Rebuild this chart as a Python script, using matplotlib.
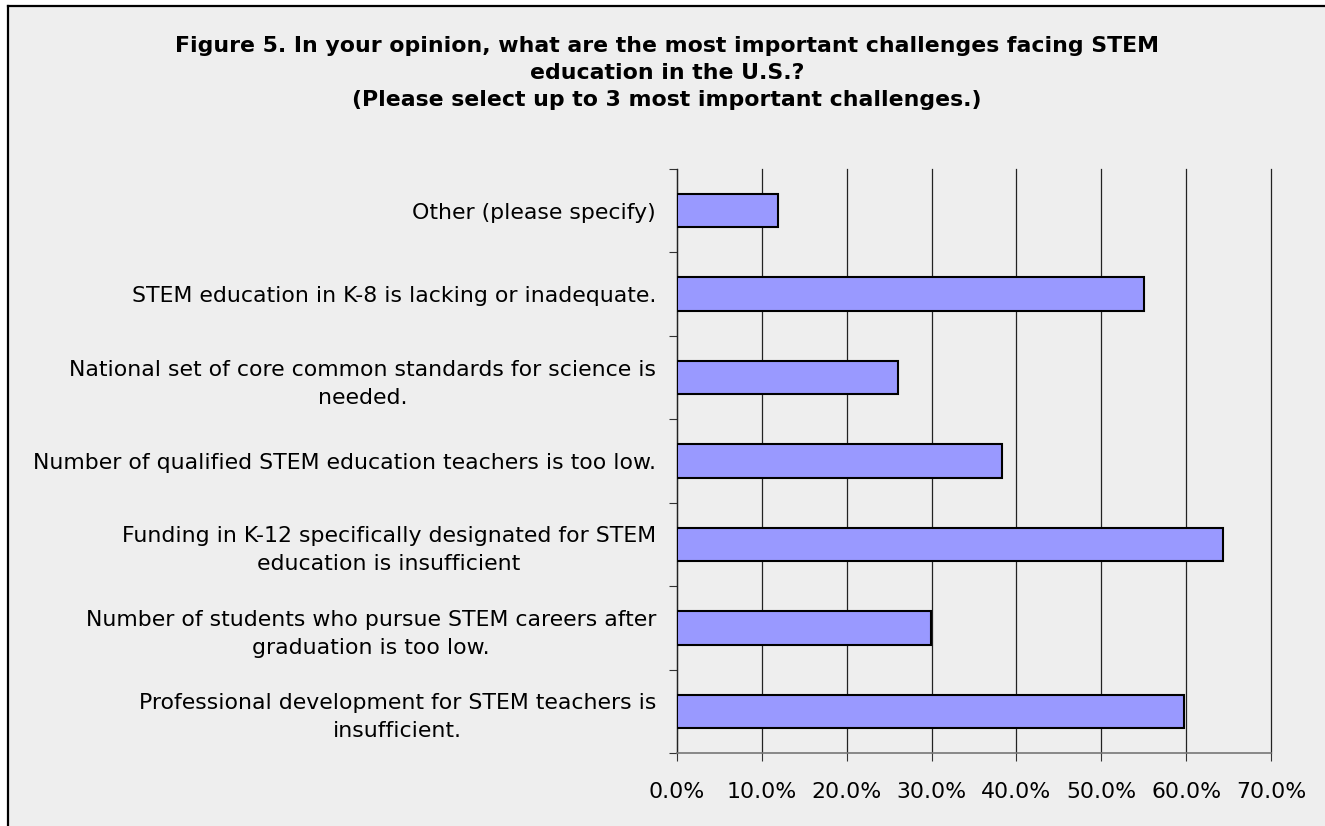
import matplotlib
matplotlib.use("Agg")
import matplotlib.pyplot as plt
from matplotlib.lines import Line2D
from matplotlib.ticker import FuncFormatter

categories = [
    "Professional development for STEM teachers is\ninsufficient.",
    "Number of students who pursue STEM careers after\ngraduation is too low.",
    "Funding in K-12 specifically designated for STEM\neducation is insufficient",
    "Number of qualified STEM education teachers is too low.",
    "National set of core common standards for science is\nneeded.",
    "STEM education in K-8 is lacking or inadequate.",
    "Other (please specify)",
]
values = [59.8, 29.9, 64.3, 38.3, 26.1, 55.0, 11.9]
xticks = [0, 10, 20, 30, 40, 50, 60, 70]
title = ("Figure 5. In your opinion, what are the most important challenges facing STEM\n"
         "education in the U.S.?\n"
         "(Please select up to 3 most important challenges.)")

W, H = 1325, 826
plt.rcParams['font.family'] = ['DejaVu Sans']
fig = plt.figure(figsize=(W / 100, H / 100), dpi=100)
fig.patch.set_facecolor('white')

# light gray chart area with border (top & left visible)
bg = plt.Rectangle((8 / W, 0), 1 - 8 / W, 1 - 6 / H, transform=fig.transFigure,
                   facecolor='#EEEEEE', edgecolor='none', zorder=-10)
fig.add_artist(bg)
fig.add_artist(Line2D([8 / W, 1], [1 - 6 / H, 1 - 6 / H], transform=fig.transFigure,
                      color='black', lw=1.6))
fig.add_artist(Line2D([8 / W, 8 / W], [0, 1 - 6 / H], transform=fig.transFigure,
                      color='black', lw=1.6))

left, right, top, bottom = 677 / W, 1271 / W, 1 - 169 / H, 1 - 753 / H
ax = fig.add_axes([left, bottom, right - left, top - bottom])
ax.set_facecolor('none')

y = list(range(len(categories)))
ax.barh(y, values, height=0.4, color='#9999FF', edgecolor='black', linewidth=1.5, zorder=3)

ax.set_xlim(0, 70)
ax.set_ylim(-0.5, len(categories) - 0.5)
ax.set_xticks(xticks)
ax.xaxis.set_major_formatter(FuncFormatter(lambda v, p: f"{v:.1f}%"))
ax.tick_params(axis='x', length=6, width=0.8, color='#333333', pad=15, labelsize=15.8)
ax.grid(axis='x', color='#222222', lw=0.9, zorder=1)
for gl in ax.get_xgridlines():
    gl.set_clip_on(False)

ax.set_yticks(y)
ax.set_yticklabels(categories, fontsize=15.8, multialignment='center', linespacing=1.5)
ax.set_yticks([i - 0.5 for i in range(len(categories) + 1)], minor=True)
ax.tick_params(axis='y', which='major', length=0, pad=15)
ax.tick_params(axis='y', which='minor', length=6, width=0.8, color='#333333')

for s in ['top', 'right']:
    ax.spines[s].set_visible(False)
ax.spines['left'].set_color('#222222')
ax.spines['left'].set_linewidth(0.9)
ax.spines['bottom'].set_color('#777777')
ax.spines['bottom'].set_linewidth(1.2)

fig.text(667 / W, 1 - 73 / H, title, ha='center', va='center', fontsize=15.8,
         fontweight='bold', linespacing=1.42)

fig.savefig('out.png', dpi=100, facecolor=fig.get_facecolor())
